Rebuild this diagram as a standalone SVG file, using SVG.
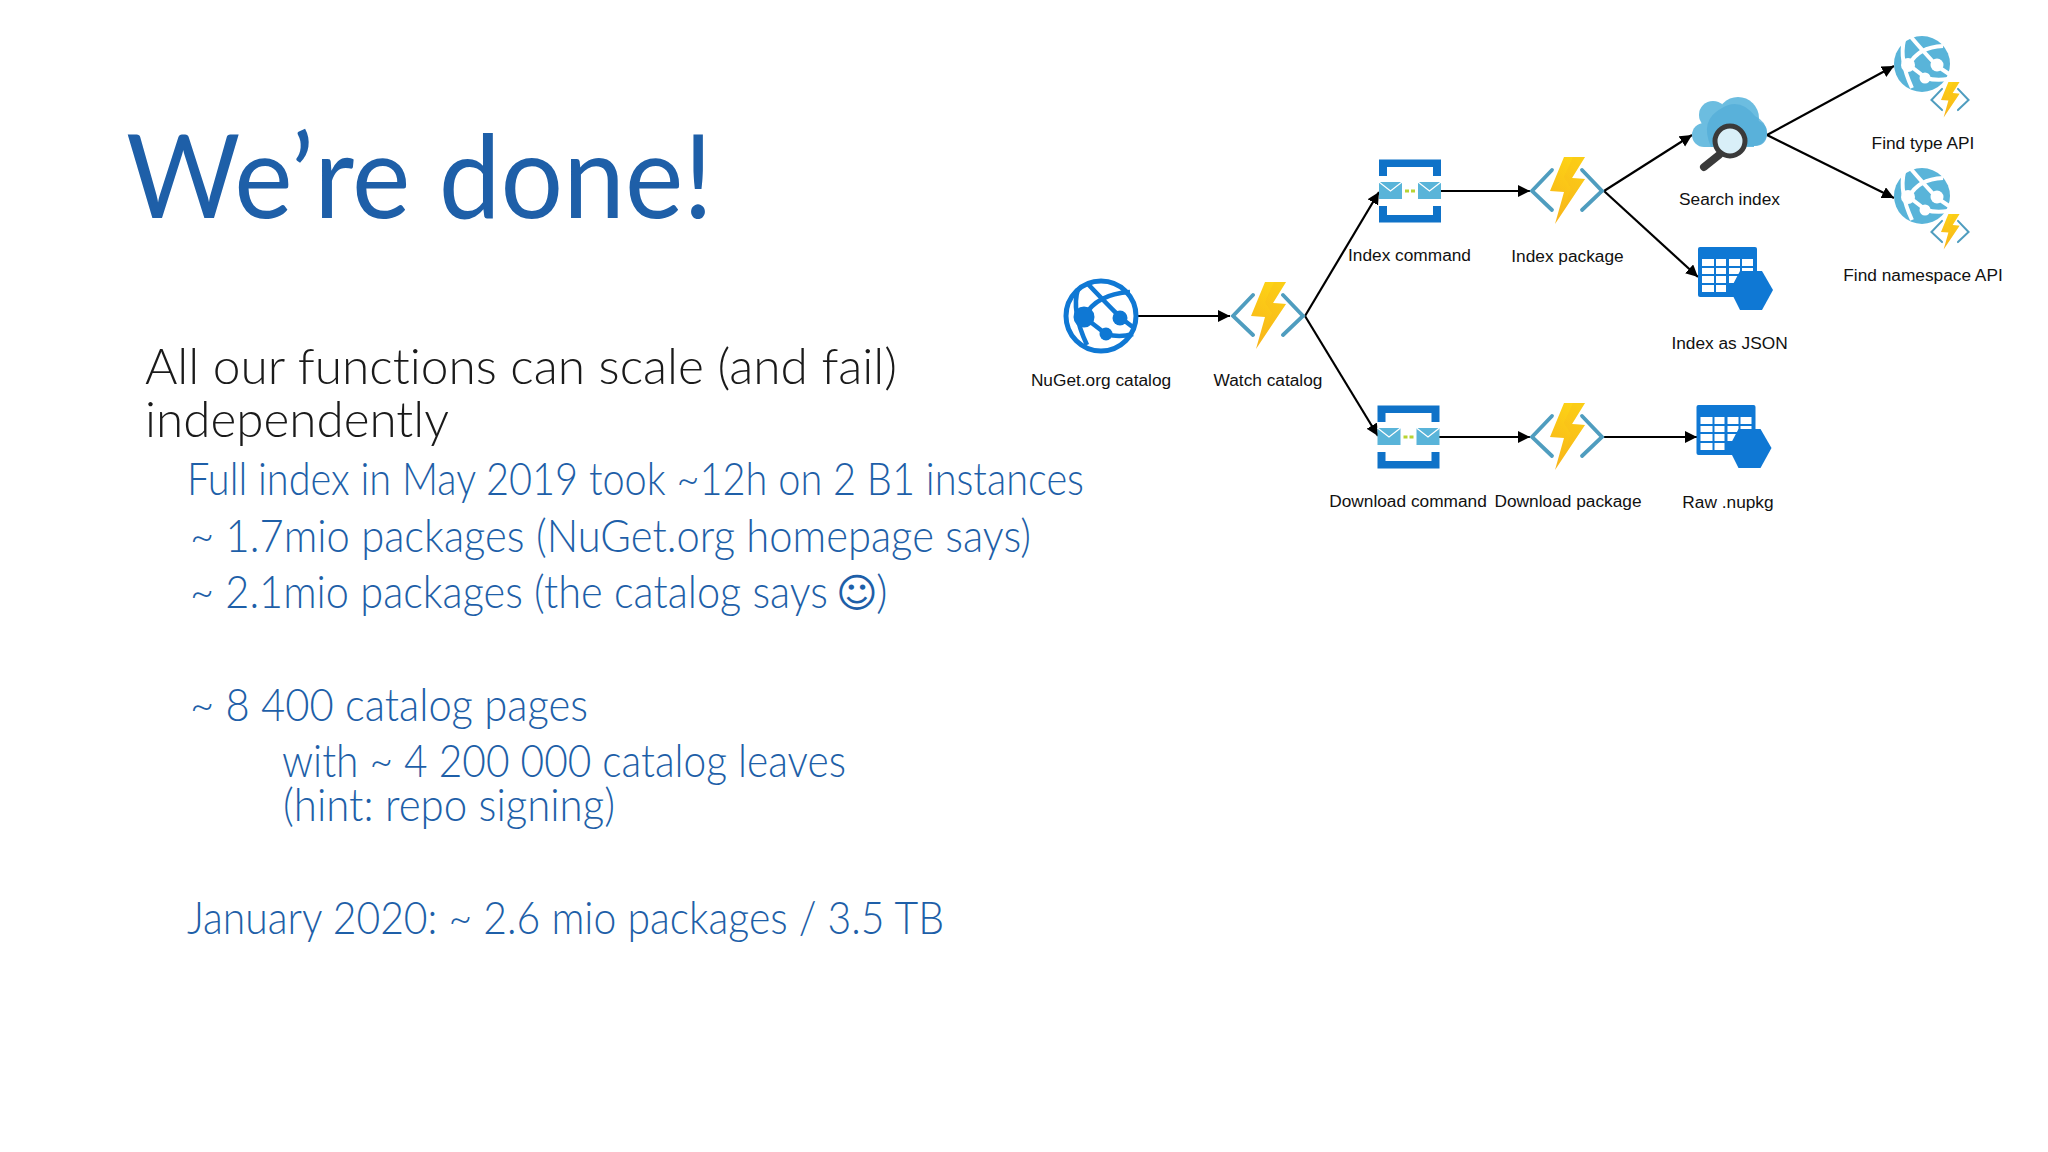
<svg xmlns="http://www.w3.org/2000/svg" width="2048" height="1152" viewBox="0 0 2048 1152">
<style>
text{font-variant-ligatures:none}
.title{font-family:"Lato","Open Sans","Liberation Sans",sans-serif;font-weight:400;font-size:116px;fill:#1e5fa8}
.lead{font-family:"Lato","Open Sans","Liberation Sans",sans-serif;font-weight:300;font-size:50px;fill:#1a1a1a}
.body{font-family:"Lato","Open Sans","Liberation Sans",sans-serif;font-weight:300;font-size:45px;fill:#1e5fa8}
.smile{font-family:"DejaVu Sans",sans-serif;font-size:40px;fill:#1e5fa8}
.lbl{font-family:"Liberation Sans",Arial,sans-serif;font-size:17.3px;fill:#111;text-anchor:middle}
.edge{fill:none;stroke:#000;stroke-width:2.2;marker-end:url(#arrow)}
</style>
<defs>
<marker id="arrow" markerUnits="userSpaceOnUse" markerWidth="14" markerHeight="14" refX="12" refY="6" orient="auto"><path d="M0,0 L12,6 L0,12 Z" fill="#000"/></marker>
<linearGradient id="bolt" x1="0.7" y1="0" x2="0.3" y2="1"><stop offset="0" stop-color="#fdd415"/><stop offset="1" stop-color="#f8b41a"/></linearGradient>
<g id="func">
<path d="M-15,-21 L-35,0 L-15,19 M15,-21 L35,0 L15,19" fill="none" stroke="#4f9dbf" stroke-width="3.8" stroke-linecap="round" stroke-linejoin="miter"/>
<path d="M-3,-34 L18,-34 L5,-13 L18,-12 L-12,33 L-3,1 L-17,0 Z" fill="url(#bolt)"/>
<path d="M6,-34 L18,-34 L5,-13 L18,-12 L-4,20 L4,-3 L-3,-14 Z" fill="#f9b81b" opacity=".25"/>
</g>
<g id="queue">
<path d="M-31,-15 V-31.5 H31 V-15 H23 V-24 H-23 V-15 Z M-31,15 V31.5 H31 V15 H23 V24 H-23 V15 Z" fill="#0f72c8"/>
<rect x="-31" y="-9" width="23" height="17" fill="#59b4d9"/>
<rect x="8" y="-9" width="23" height="17" fill="#59b4d9"/>
<path d="M-31,-9 L-19.5,0 L-8,-9 M8,-9 L19.5,0 L31,-9" fill="none" stroke="#fff" stroke-width="1.2"/>
<path d="M-5,0 H-1 M1,0 H5" stroke="#b8d432" stroke-width="3"/>
</g>
<g id="table">
<rect x="0" y="0" width="59" height="50" rx="2" fill="#0f78d4"/>
<g fill="#fff">
<rect x="4" y="12" width="12" height="7"/><rect x="18" y="12" width="10" height="7"/><rect x="31" y="12" width="11" height="7"/><rect x="44" y="12" width="11" height="7"/>
<rect x="4" y="21" width="12" height="6"/><rect x="18" y="21" width="10" height="6"/><rect x="31" y="21" width="11" height="6"/><rect x="44" y="21" width="11" height="6"/>
<rect x="4" y="29" width="12" height="7"/><rect x="18" y="29" width="10" height="7"/><rect x="31" y="29" width="11" height="7"/>
<rect x="4" y="38" width="12" height="7"/><rect x="18" y="38" width="10" height="7"/>
</g>
<path d="M42,24 H64 L75,43 L64,63 H42 L32,43 Z" fill="#0f78d4"/>
</g>
<g id="paleglobe">
<circle r="28" fill="#59b4d9"/>
<g fill="none" stroke="#fff" stroke-width="4">
<path d="M-13,1 Q-4,-17 21,-18"/>
<path d="M-11,-27 Q0,-14 15,2 L27,10"/>
<path d="M-13,1 L4,14 Q14,17 26,15"/>
<path d="M-18,-24 Q-23,-4 -10,24"/>
</g>
<circle cx="15" cy="1" r="6.5" fill="#fff"/>
<circle cx="3" cy="14" r="5.5" fill="#fff"/>
<circle cx="-14" cy="1" r="7" fill="#fff"/>
</g>
</defs>
<rect width="2048" height="1152" fill="#fff"/>

<g id="slide-text">
<text class="title" x="126" y="218" textLength="587" lengthAdjust="spacingAndGlyphs">We’re done!</text>
<text class="lead" x="145" y="384" textLength="752" lengthAdjust="spacingAndGlyphs">All our functions can scale (and fail)</text>
<text class="lead" x="145" y="437" textLength="304" lengthAdjust="spacingAndGlyphs">independently</text>
<text class="body" x="187" y="495" textLength="897" lengthAdjust="spacingAndGlyphs">Full index in May 2019 took ~12h on 2 B1 instances</text>
<text class="body" x="190" y="552" textLength="841" lengthAdjust="spacingAndGlyphs">~ 1.7mio packages (NuGet.org homepage says)</text>
<text class="body" x="190" y="608" textLength="638" lengthAdjust="spacingAndGlyphs">~ 2.1mio packages (the catalog says</text>
<text class="smile" x="836" y="607">☺</text>
<text class="body" x="876" y="608">)</text>
<text class="body" x="190" y="721" textLength="398" lengthAdjust="spacingAndGlyphs">~ 8 400 catalog pages</text>
<text class="body" x="282" y="777" textLength="564" lengthAdjust="spacingAndGlyphs">with ~ 4 200 000 catalog leaves</text>
<text class="body" x="283" y="821" textLength="332" lengthAdjust="spacingAndGlyphs">(hint: repo signing)</text>
<text class="body" x="187" y="934" textLength="757" lengthAdjust="spacingAndGlyphs">January 2020: ~ 2.6 mio packages / 3.5 TB</text>
</g>

<g id="connectors">
<path class="edge" d="M1137,316 L1230,316"/>
<path class="edge" d="M1305,316 L1379,192"/>
<path class="edge" d="M1305,316 L1378,436"/>
<path class="edge" d="M1441,191 L1530,191"/>
<path class="edge" d="M1439,437 L1530,437"/>
<path class="edge" d="M1604,437 L1697,437"/>
<path class="edge" d="M1604,191 L1692,135"/>
<path class="edge" d="M1604,191 L1698,277"/>
<path class="edge" d="M1767,135 L1894,66"/>
<path class="edge" d="M1767,135 L1894,198"/>
</g>

<g id="nuget-catalog">
<g transform="translate(1101,316)">
<circle r="35" fill="none" stroke="#0f78d4" stroke-width="5"/>
<g fill="none" stroke="#0f78d4" stroke-width="4.6">
<path d="M-17,1 Q-5,-22 29,-24"/>
<path d="M-14,-33 Q0,-18 20,2 L33,12"/>
<path d="M-17,1 L5,18 Q18,22 32,18"/>
<path d="M-23,-27 Q-30,-5 -14,29"/>
</g>
<circle cx="-17" cy="1" r="10.5" fill="#0f78d4"/>
<circle cx="19" cy="2" r="7.5" fill="#0f78d4"/>
<circle cx="5" cy="18" r="6.5" fill="#0f78d4"/>
</g>
<text class="lbl" x="1101" y="386">NuGet.org catalog</text>
</g>

<g id="watch-catalog">
<use href="#func" transform="translate(1268,316)"/>
<text class="lbl" x="1268" y="386">Watch catalog</text>
</g>

<g id="index-command">
<use href="#queue" transform="translate(1410,191)"/>
<text class="lbl" x="1409.5" y="261">Index command</text>
</g>

<g id="download-command">
<use href="#queue" transform="translate(1408.5,437)"/>
<text class="lbl" x="1408" y="507">Download command</text>
</g>

<g id="index-package">
<use href="#func" transform="translate(1567,191)"/>
<text class="lbl" x="1567.5" y="262">Index package</text>
</g>

<g id="download-package">
<use href="#func" transform="translate(1567,437)"/>
<text class="lbl" x="1568" y="507">Download package</text>
</g>

<g id="search-index">
<g fill="#6cbde0">
<circle cx="1713" cy="115" r="14"/>
<circle cx="1738" cy="118" r="21"/>
<circle cx="1704" cy="135" r="12"/>
<circle cx="1754" cy="133" r="13"/>
<rect x="1704" y="125" width="50" height="22"/>
</g>
<path d="M1711,147 Q1699,120 1722,108 Q1740,97 1755,116 Q1767,122 1767,133 Q1767,146 1754,146 Z" fill="#55aed8" opacity=".8"/>
<path d="M1719,155 L1704,167" stroke="#3a3a3a" stroke-width="8" stroke-linecap="round"/>
<circle cx="1730" cy="141" r="15" fill="#d9eff8" stroke="#3a3a3a" stroke-width="5"/>
<text class="lbl" x="1729.5" y="205">Search index</text>
</g>

<g id="index-as-json">
<use href="#table" transform="translate(1698,247)"/>
<text class="lbl" x="1729.5" y="349">Index as JSON</text>
</g>

<g id="raw-nupkg">
<use href="#table" transform="translate(1696.5,405)"/>
<text class="lbl" x="1728" y="508">Raw .nupkg</text>
</g>

<g id="find-type-api">
<use href="#paleglobe" transform="translate(1922,64)"/>
<use href="#func" transform="translate(1950,100) scale(.53)"/>
<text class="lbl" x="1923" y="149">Find type API</text>
</g>

<g id="find-namespace-api">
<use href="#paleglobe" transform="translate(1922,196)"/>
<use href="#func" transform="translate(1950,232) scale(.53)"/>
<text class="lbl" x="1923" y="281">Find namespace API</text>
</g>
</svg>
